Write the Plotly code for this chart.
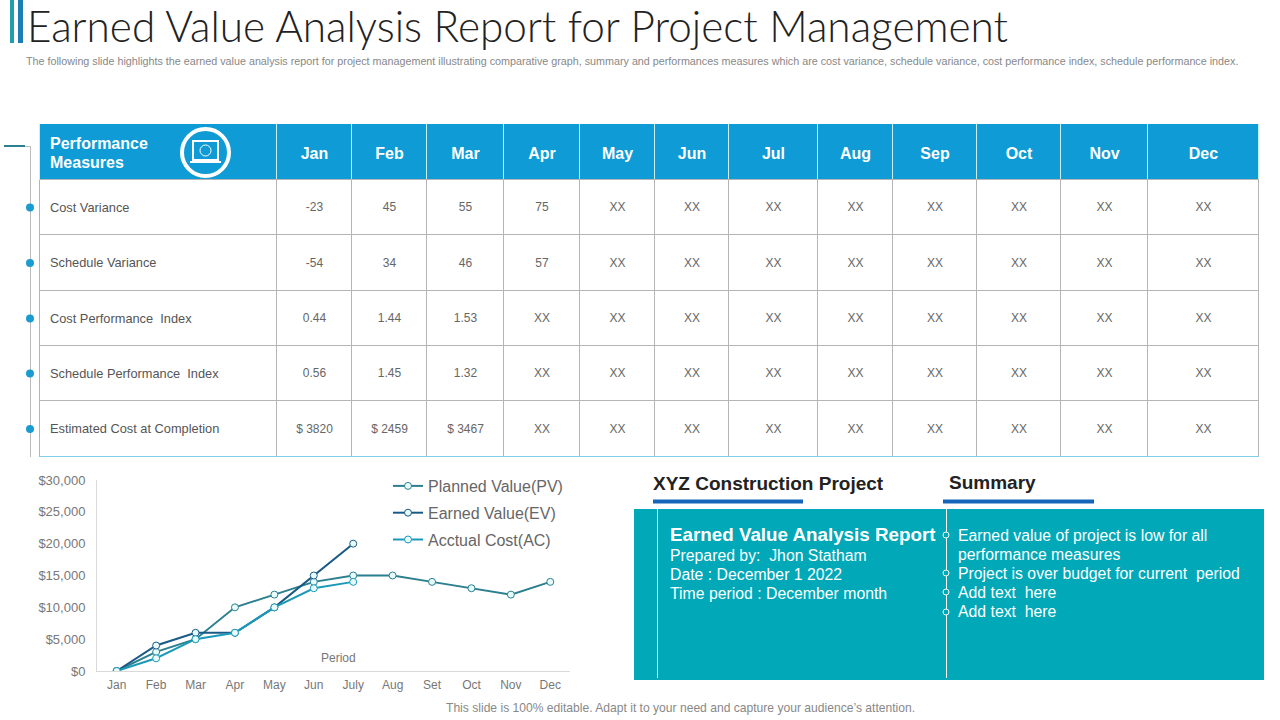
import plotly.graph_objs as go

# Chart values
months = ['Jan', 'Feb', 'Mar', 'Apr', 'May', 'Jun', 'July', 'Aug', 'Set', 'Oct', 'Nov', 'Dec']
planned_value = [0, 3000, 5000, 10000, 12000, 14000, 15000, 15000, 14000, 13000, 12000, 14000]
earned_value = [0, 4000, 6000, 6000, 10000, 15000, 20000]
actual_cost = [0, 2000, 5000, 6000, 10000, 13000, 14000]
y_ticks = [0, 5000, 10000, 15000, 20000, 25000, 30000]

# Table values
table_months = ['Jan', 'Feb', 'Mar', 'Apr', 'May', 'Jun', 'Jul', 'Aug', 'Sep', 'Oct', 'Nov', 'Dec']
measures = ['Cost Variance', 'Schedule Variance', 'Cost Performance  Index',
            'Schedule Performance  Index', 'Estimated Cost at Completion']
cost_variance = ['-23', '45', '55', '75'] + ['XX'] * 8
schedule_variance = ['-54', '34', '46', '57'] + ['XX'] * 8
cost_index = ['0.44', '1.44', '1.53'] + ['XX'] * 9
schedule_index = ['0.56', '1.45', '1.32'] + ['XX'] * 9
completion_cost = ['$ 3820', '$ 2459', '$ 3467'] + ['XX'] * 9

# Table grid in page pixels
col_edges = [40, 277, 352, 427, 504, 580, 655, 729, 818, 893, 977, 1061, 1148, 1259]
row_edges = [124, 180, 235, 291, 346, 401, 457]

# Text in the lower right panel
report_lines = ['Prepared by:  Jhon Statham', 'Date : December 1 2022', 'Time period : December month']
summary_lines = ['Earned value of project is low for all', 'performance measures',
                 'Project is over budget for current  period', 'Add text  here', 'Add text  here']


def label(x, y, text, size=12, color='#555555', bold=False, anchor='left', family='Liberation Sans', weight=None):
    # annotation placed in page pixels, 2 px less for its own padding
    if bold:
        text = '<b>' + text + '</b>'
    if anchor == 'left':
        x = x - 2
    return dict(x=x, y=y, xref='x', yref='y', text=text, showarrow=False, xanchor=anchor, yanchor='middle',
                font=dict(size=size, color=color, family=family, weight=weight))


def box(x0, y0, x1, y1, fill=None, line=None, width=1, kind='rect', layer='below'):
    # shape placed in page pixels
    return dict(type=kind, xref='x', yref='y', x0=x0, y0=y0, x1=x1, y1=y1, fillcolor=fill, layer=layer,
                line=dict(color=line, width=width if line else 0))


def graphIt():
    # The three value lines
    trace1 = go.Scatter(x=months, y=planned_value, name='Planned Value(PV)', mode='lines+markers', legendgroup='pv',
                        xaxis='x2', yaxis='y2',
                        line=dict(color='#2b7f8e', width=2),
                        marker=dict(color='#e8fbfb', size=7, line=dict(color='#2b7f8e', width=1)))
    trace2 = go.Scatter(x=months[:7], y=earned_value, name='Earned Value(EV)', mode='lines+markers', legendgroup='ev',
                        xaxis='x2', yaxis='y2',
                        line=dict(color='#1a5a86', width=2),
                        marker=dict(color='#e8fbfb', size=7, line=dict(color='#1a5a86', width=1)))
    trace3 = go.Scatter(x=months[:7], y=actual_cost, name='Acctual Cost(AC)', mode='lines+markers', legendgroup='ac',
                        xaxis='x2', yaxis='y2',
                        line=dict(color='#1a9ab8', width=2),
                        marker=dict(color='#e8fbfb', size=7, line=dict(color='#1a9ab8', width=1)))

    # Table cell text, one point per cell on the page axes
    rows = [cost_variance, schedule_variance, cost_index, schedule_index, completion_cost]
    centers = [(col_edges[i] + col_edges[i + 1]) / 2 for i in range(1, len(col_edges) - 1)]
    middles = [(row_edges[i] + row_edges[i + 1]) / 2 for i in range(1, len(row_edges) - 1)]
    cell_x, cell_y, cell_text = [], [], []
    for row, mid in zip(rows, middles):
        cell_x += centers
        cell_y += [mid + 0.5] * len(row)
        cell_text += row
    trace4 = go.Scatter(x=cell_x, y=cell_y, text=cell_text, mode='text', showlegend=False,
                        textfont=dict(size=12, color='#666666', family='Liberation Sans'), hoverinfo='skip')

    # Month names in the header
    trace5 = go.Scatter(x=centers, y=[155] * len(centers), text=table_months, mode='text',
                        showlegend=False, hoverinfo='skip',
                        textfont=dict(size=16, color='white', family='Liberation Sans', weight='bold'))

    # Dots on the line left of the table
    trace6 = go.Scatter(x=[30] * len(middles), y=middles, mode='markers', showlegend=False,
                        marker=dict(color='#1a9cd0', size=8), hoverinfo='skip')

    # Dots on the summary divider
    trace7 = go.Scatter(x=[946] * 4, y=[535, 573, 592, 612], mode='markers', showlegend=False,
                        marker=dict(color='#00a8b8', size=6, line=dict(color='white', width=1)), hoverinfo='skip')

    shapes = [
        box(10, 0, 14, 43, fill='#1f9fa8'),
        box(18, 0, 23, 43, fill='#1b7fb5'),
        box(40, 124, 1259, 180, fill='#0e9bd6'),
        box(4, 145, 25, 147, fill='#2b7f8e'),
        box(25, 146.5, 30, 146.5, line='#bbbbbb'),
        box(30.5, 146, 30.5, 457, line='#bbbbbb'),
        box(634, 509, 1264, 680, fill='#00a8b8'),
        box(657.5, 509, 657.5, 678, line='white'),
        box(946.5, 509, 946.5, 678, line='white'),
        box(653, 499.5, 803, 503.5, fill='#1565b8'),
        box(943, 499.5, 1094, 503.5, fill='#1565b8'),
        # the icon in the header
        box(182, 129, 229, 176, line='white', width=4, kind='circle'),
        box(193, 141, 218, 160, line='white', width=2),
        box(190, 161, 221, 163, fill='white'),
        box(200, 145, 211, 156, line='white', width=1, kind='circle'),
    ]
    # grid of the table
    for x in col_edges:
        shapes.append(box(x - 0.5, 180, x - 0.5, 457, line='#b5b5b5'))
        shapes.append(box(x - 0.5, 124, x - 0.5, 180, line='#c8f0fa'))
    for y in row_edges[1:-1]:
        shapes.append(box(40, y - 0.5, 1259, y - 0.5, line='#b5b5b5'))
    shapes.append(box(40, 456.5, 1259, 456.5, line='#7fcfe8'))

    annotations = [
        label(27, 25, 'Earned Value Analysis Report for Project Management', size=42.3, color='#222222',
              family='Lato', weight=300),
        label(26, 61, 'The following slide highlights the earned value analysis report for project management '
                      'illustrating comparative graph, summary and performances measures which are cost variance, '
                      'schedule variance, cost performance index, schedule performance index.', size=10.75, color='#888888'),
        label(50, 143, 'Performance', size=16, color='white', bold=True),
        label(50, 162, 'Measures', size=16, color='white', bold=True),
        label(338, 658, 'Period', size=12, color='#777777', anchor='center'),
        label(653, 483, 'XYZ Construction Project', size=19, color='#222222', bold=True),
        label(949, 482, 'Summary', size=19, color='#222222', bold=True),
        label(670, 534, 'Earned Value Analysis Report', size=18.8, color='white', bold=True),
        label(680, 708, 'This slide is 100% editable. Adapt it to your need and capture your audience\u2019s attention.',
              size=12.1, color='#888888', anchor='center'),
    ]
    for name, mid in zip(measures, middles):
        annotations.append(label(50, mid - 0.5, name, size=12.8))
    for line_text, y in zip(report_lines, [555, 574, 593]):
        annotations.append(label(670, y, line_text, size=15.8, color='white'))
    for line_text, y in zip(summary_lines, [535, 554, 573, 592, 611]):
        annotations.append(label(958, y, line_text, size=15.8, color='white'))

    layout = go.Layout(
        width=1280,
        height=720,
        margin=dict(l=0, r=0, t=0, b=0, autoexpand=False),
        paper_bgcolor='white',
        plot_bgcolor='rgba(0,0,0,0)',
        font=dict(family='Liberation Sans', color='#666666', size=12),
        xaxis=dict(domain=[0, 1], anchor='y', range=[0, 1280], visible=False),
        yaxis=dict(domain=[0, 1], anchor='x', range=[720, 0], visible=False),
        xaxis2=dict(domain=[97 / 1280, 570 / 1280], anchor='y2', type='category', range=[-0.5, 11.5],
                    categoryorder='array', categoryarray=months, showgrid=False, showline=True,
                    linecolor='#d9d9d9', ticks='outside', ticklen=3, tickcolor='rgba(0,0,0,0)',
                    tickfont=dict(size=12, color='#777777')),
        yaxis2=dict(domain=[49 / 720, 240 / 720], anchor='x2', range=[0, 30000], tickvals=y_ticks,
                    tickformat='$,d', showgrid=False, zeroline=False, showline=True, linecolor='#d9d9d9',
                    ticks='outside', ticklen=8, tickcolor='rgba(0,0,0,0)', tickfont=dict(size=13, color='#777777')),
        legend=dict(x=388 / 1280, y=1 - 469 / 720, xanchor='left', yanchor='top', tracegroupgap=3,
                    bgcolor='rgba(0,0,0,0)', font=dict(size=16, color='#666666')),
        shapes=shapes,
        annotations=annotations,
    )

    data = [trace4, trace5, trace6, trace7, trace1, trace2, trace3]
    fig = go.Figure(data=data, layout=layout)
    fig.write_html("out.html", config={'displayModeBar': False}, post_script="document.body.style.margin = '0';")


graphIt()
